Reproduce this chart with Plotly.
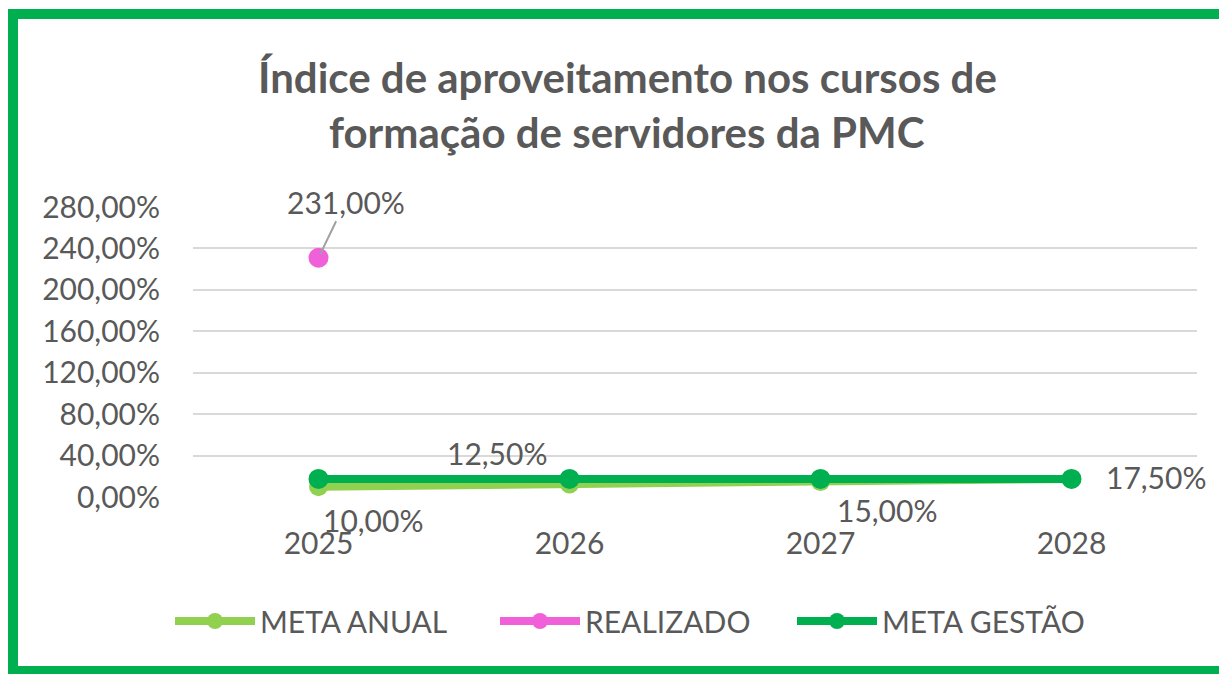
import plotly.graph_objects as go

years = ["2025", "2026", "2027", "2028"]
meta_anual = [10.0, 12.5, 15.0, 17.5]
realizado = [231.0, None, None, None]
meta_gestao = [17.5, 17.5, 17.5, 17.5]
y_ticks = [0, 40, 80, 120, 160, 200, 240, 280]

title_lines = ["Índice de aproveitamento nos cursos de", "formação de servidores da PMC"]

C_ANUAL = "#92D050"
C_REAL = "#F060D8"
C_GEST = "#00B050"
TXT = "#595959"
FONT = "Lato"

OFF = 8  # page body margin
W, H = 1219, 666
L, R, T, B = 185, 30, 199, 177


def fmt(v):
    return f"{v:.2f}".replace(".", ",") + "%"


def px(sx):
    return (sx - OFF - L) / (W - L - R)


def py(sy):
    return (H - B - (sy - OFF)) / (H - T - B)


def cx(sx):
    return (sx - OFF) / W


def cy(sy):
    return 1 - (sy - OFF) / H


fig = go.Figure()
fig.add_trace(go.Scatter(x=years, y=meta_anual, name="META ANUAL", mode="lines+markers",
                         line=dict(color=C_ANUAL, width=8), marker=dict(size=19, color=C_ANUAL),
                         legend="legend"))
fig.add_trace(go.Scatter(x=years, y=realizado, name="REALIZADO", mode="lines+markers",
                         line=dict(color=C_REAL, width=8), marker=dict(size=20, color=C_REAL),
                         legend="legend2"))
fig.add_trace(go.Scatter(x=years, y=meta_gestao, name="META GESTÃO", mode="lines+markers",
                         line=dict(color=C_GEST, width=8), marker=dict(size=20, color=C_GEST),
                         legend="legend3"))

lab_font = dict(family=FONT, size=30, color=TXT)
offsets = [(54, -33), (-73, 31), (66, -29), (84, 2)]
for i, (yv, (dx, dy)) in enumerate(zip(meta_anual, offsets)):
    fig.add_annotation(x=i, y=yv, text=fmt(yv), showarrow=False, xshift=dx, yshift=dy,
                       font=lab_font)
fig.add_annotation(x=0, y=realizado[0], text=fmt(realizado[0]), showarrow=True,
                   ax=27, ay=-56, arrowhead=0, arrowwidth=2, arrowcolor="#A0A0A0",
                   standoff=4, font=lab_font)

for i, line in enumerate(title_lines):
    fig.add_annotation(xref="paper", yref="paper", x=px(627), y=py(77 + 55 * i), text=f"<b>{line}</b>",
                       showarrow=False, font=dict(family=FONT, size=42, color=TXT),
                       xanchor="center", yanchor="middle")

# green frame: left, top and bottom sides (right side lies outside the picture)
xl, xr, yt, yb = px(13), px(1222), py(14), py(671)
frame = dict(type="line", xref="paper", yref="paper", line=dict(color=C_GEST, width=10), layer="above")
fig.add_shape(x0=xl, x1=xl, y0=py(9), y1=py(676), **frame)
fig.add_shape(x0=px(8), x1=xr, y0=yt, y1=yt, **frame)
fig.add_shape(x0=px(8), x1=xr, y0=yb, y1=yb, **frame)

leg_common = dict(orientation="h", xref="container", yref="container", xanchor="left",
                  y=cy(621), yanchor="middle", font=dict(family=FONT, size=30, color=TXT),
                  itemwidth=80, bgcolor="rgba(0,0,0,0)")

fig.update_layout(
    width=W, height=H,
    margin=dict(l=L, r=R, t=T, b=B, autoexpand=False),
    paper_bgcolor="white", plot_bgcolor="white",
    showlegend=True,
    legend=dict(x=cx(170), **leg_common),
    legend2=dict(x=cx(495), **leg_common),
    legend3=dict(x=cx(792), **leg_common),
    xaxis=dict(type="category", range=[-0.5, 3.5], showgrid=False, showline=False, zeroline=False,
               automargin=False, tickangle=0,
               ticks="", tickfont=dict(family=FONT, size=30, color=TXT), ticklabelstandoff=26),
    yaxis=dict(range=[0, 280], tickvals=y_ticks, ticktext=[fmt(v) for v in y_ticks],
               automargin=False,
               showgrid=True, gridcolor="#D9D9D9", gridwidth=2, zeroline=False, showline=False,
               ticks="", tickfont=dict(family=FONT, size=30, color=TXT), ticklabelstandoff=32),
)

fig.write_html("out.html")
